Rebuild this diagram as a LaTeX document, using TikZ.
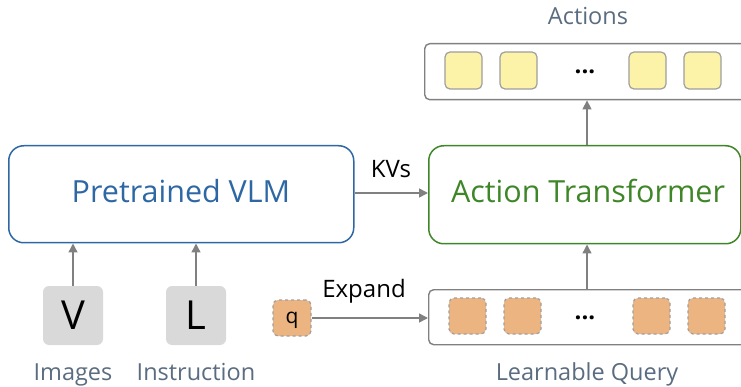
\documentclass[tikz,border=0pt]{standalone}
\usepackage{fontspec}
\setmainfont{Open Sans}
\usetikzlibrary{arrows.meta}
\definecolor{vlmblue}{RGB}{46,104,164}
\definecolor{atgreen}{RGB}{62,134,40}
\definecolor{lblgray}{RGB}{90,108,128}
\definecolor{arrgray}{RGB}{128,128,128}
\definecolor{boxgray}{RGB}{217,217,217}
\definecolor{qorange}{RGB}{236,180,128}
\definecolor{ayellow}{RGB}{252,242,168}
\tikzset{
  bigbox/.style={draw, line width=1.5pt, rounded corners=15pt, inner sep=0pt},
  rowbox/.style={draw=arrgray, line width=1.4pt, rounded corners=5pt, fill=white, inner sep=0pt},
  actsq/.style={draw=gray!75, line width=1.2pt, fill=ayellow, rounded corners=5pt, minimum width=37pt, minimum height=37pt, inner sep=0pt},
  qsq/.style={draw=gray!75, dashed, line width=1.2pt, fill=qorange, rounded corners=5pt, minimum width=37pt, minimum height=36pt, inner sep=0pt},
  inbox/.style={fill=boxgray, rounded corners=6pt, minimum width=60pt, minimum height=59pt, inner sep=0pt, font=\fontsize{40}{40}\selectfont},
  bigtext/.style={font=\fontsize{30.5}{30}\selectfont, inner sep=0pt, anchor=base},
  lbl/.style={text=lblgray, font=\fontsize{23.5}{24}\selectfont, inner sep=0pt, anchor=base},
  conn/.style={draw=arrgray, line width=1.4pt, -{Triangle[length=9pt,width=9pt]}},
  edgelbl/.style={font=\fontsize{24}{24}\selectfont, inner sep=0pt, anchor=base},
  dots/.style={font=\fontsize{24}{24}\selectfont\bfseries, inner sep=0pt, anchor=base},
}
\begin{document}
\begin{tikzpicture}[x=1pt,y=-1pt]
\useasboundingbox (0,0) rectangle (741,387);
\clip (0,0) rectangle (741,387);
% main boxes
\node[bigbox, draw=vlmblue, minimum width=345pt, minimum height=97pt, anchor=north west] (vlm) at (8,145) {};
\node[bigtext, text=vlmblue] (vlmtext) at (181,203) {Pretrained VLM};
\node[bigbox, draw=atgreen, minimum width=312pt, minimum height=98pt, anchor=north west] (at) at (428,145) {};
\node[bigtext, text=atgreen] (attext) at (588,203) {Action Transformer};
% actions row
\node[rowbox, minimum width=330pt, minimum height=56pt, anchor=north west] (act) at (424,43) {};
\node[actsq] (a1) at (463.5,70.5) {};
\node[actsq] (a2) at (518.5,70.5) {};
\node[dots] (adots) at (585,74) {...};
\node[actsq] (a3) at (647.5,70.5) {};
\node[actsq] (a4) at (702.5,70.5) {};
\node[lbl] (actlbl) at (588,25) {Actions};
% learnable query row
\node[rowbox, minimum width=330pt, minimum height=55pt, anchor=north west] (lq) at (428,289) {};
\node[qsq] (q1) at (467.5,316) {};
\node[qsq] (q2) at (522.5,316) {};
\node[dots] (qdots) at (585,319) {...};
\node[qsq] (q3) at (651.5,316) {};
\node[qsq] (q4) at (706.5,316) {};
\node[lbl] (lqlbl) at (587,380) {Learnable Query};
% q
\node[qsq, minimum width=38pt] (q) at (292,318) {};
\node[font=\fontsize{21}{21}\selectfont, inner sep=0pt, anchor=base] (qtext) at (292,323) {q};
% inputs
\node[inbox] (v) at (73,315.5) {V};
\node[inbox] (l) at (196,315.5) {L};
\node[lbl] (imglbl) at (73,380) {Images};
\node[lbl] (inslbl) at (196,380) {Instruction};
% connectors
\draw[conn] (v.north) -- (v.north |- vlm.south);
\draw[conn] (l.north) -- (l.north |- vlm.south);
\draw[conn] (vlm.east |- 0,193) -- (at.west |- 0,193);
\node[edgelbl] (kvs) at (391,178) {KVs};
\draw[conn] (q.east) -- (q.east -| lq.west);
\node[edgelbl] (exp) at (364,297) {Expand};
\draw[conn] (lq.north -| 587,0) -- (at.south -| 587,0);
\draw[conn] (at.north -| 587,0) -- (act.south -| 587,0);
\end{tikzpicture}
\end{document}
